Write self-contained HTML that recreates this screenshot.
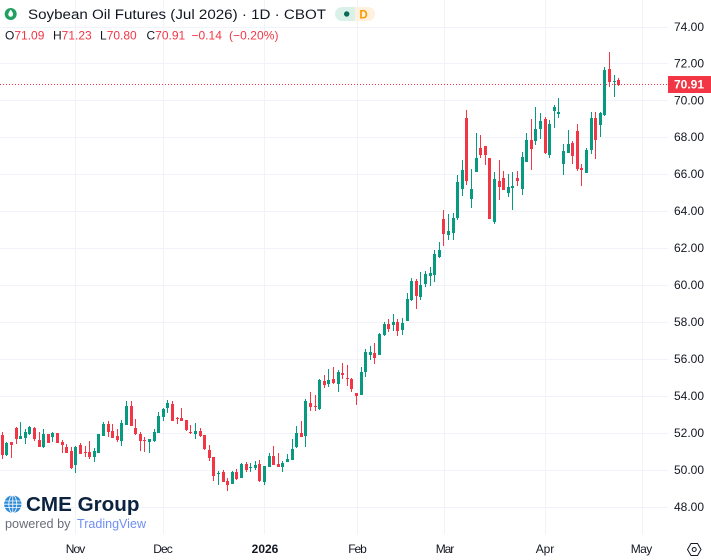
<!DOCTYPE html>
<html><head><meta charset="utf-8"><style>
html,body{margin:0;padding:0;background:#fff;}
svg{display:block;font-family:"Liberation Sans",sans-serif;}
</style></head><body>
<svg width="711" height="560" viewBox="0 0 711 560" xmlns="http://www.w3.org/2000/svg">
<rect x="0" y="0" width="711" height="560" fill="#ffffff"/>
<g fill="#f0f3fa" shape-rendering="crispEdges">
<rect x="0" y="27" width="668" height="1"/><rect x="0" y="63" width="668" height="1"/><rect x="0" y="100" width="668" height="1"/><rect x="0" y="137" width="668" height="1"/><rect x="0" y="174" width="668" height="1"/><rect x="0" y="211" width="668" height="1"/><rect x="0" y="248" width="668" height="1"/><rect x="0" y="285" width="668" height="1"/><rect x="0" y="322" width="668" height="1"/><rect x="0" y="359" width="668" height="1"/><rect x="0" y="396" width="668" height="1"/><rect x="0" y="433" width="668" height="1"/><rect x="0" y="470" width="668" height="1"/><rect x="0" y="507" width="668" height="1"/>
<rect x="75" y="0" width="1" height="534"/><rect x="163" y="0" width="1" height="534"/><rect x="264" y="0" width="1" height="534"/><rect x="357" y="0" width="1" height="534"/><rect x="444" y="0" width="1" height="534"/><rect x="545" y="0" width="1" height="534"/><rect x="642" y="0" width="1" height="534"/>
</g>
<g shape-rendering="crispEdges">
<path fill="#089981" d="M6 442h1V456h-1zM5 443h3V455h-3zM20 422h1V439h-1zM19 436h3V439h-3zM25 429h1V444h-1zM24 432h3V438h-3zM29 426h1V435h-1zM28 427h3V434h-3zM43 429h1V448h-1zM42 434h3V447h-3zM52 432h1V442h-1zM51 433h3V437h-3zM75 446h1V473h-1zM74 447h3V465h-3zM94 448h1V462h-1zM93 451h3V457h-3zM97 434h3V453h-3zM103 422h1V436h-1zM102 424h3V436h-3zM121 420h1V446h-1zM120 423h3V441h-3zM126 401h1V425h-1zM125 406h3V425h-3zM149 439h1V453h-1zM148 439h3V442h-3zM154 429h1V442h-1zM153 432h3V441h-3zM158 412h1V433h-1zM157 416h3V433h-3zM163 408h1V421h-1zM162 409h3V417h-3zM167 400h1V413h-1zM166 403h3V408h-3zM195 423h1V439h-1zM194 431h3V434h-3zM218 471h1V485h-1zM217 473h3V474h-3zM232 471h1V484h-1zM231 472h3V484h-3zM241 463h1V478h-1zM240 464h3V478h-3zM250 463h1V472h-1zM249 467h3V468h-3zM255 461h1V470h-1zM254 465h3V468h-3zM264 466h1V485h-1zM263 466h3V482h-3zM269 453h1V467h-1zM268 456h3V467h-3zM282 461h1V472h-1zM281 463h3V467h-3zM287 454h1V462h-1zM286 459h3V462h-3zM292 439h1V460h-1zM291 449h3V460h-3zM296 426h1V448h-1zM295 433h3V447h-3zM305 399h1V447h-1zM304 401h3V436h-3zM319 379h1V410h-1zM318 380h3V409h-3zM328 369h1V387h-1zM327 380h3V384h-3zM338 370h1V392h-1zM337 372h3V384h-3zM361 367h1V395h-1zM360 372h3V395h-3zM365 349h1V377h-1zM364 352h3V372h-3zM370 346h1V360h-1zM369 352h3V355h-3zM379 333h1V355h-1zM378 334h3V355h-3zM384 322h1V336h-1zM383 324h3V335h-3zM393 314h1V331h-1zM392 322h3V325h-3zM402 318h1V335h-1zM401 323h3V330h-3zM407 293h1V321h-1zM406 299h3V321h-3zM411 278h1V301h-1zM410 281h3V300h-3zM420 272h1V300h-1zM419 285h3V297h-3zM425 271h1V287h-1zM424 274h3V284h-3zM430 267h1V286h-1zM429 273h3V276h-3zM434 250h1V282h-1zM433 254h3V275h-3zM439 242h1V258h-1zM438 250h3V257h-3zM448 214h1V240h-1zM447 231h3V235h-3zM453 213h1V240h-1zM452 218h3V233h-3zM457 175h1V220h-1zM456 182h3V218h-3zM462 160h1V196h-1zM461 170h3V189h-3zM471 169h1V208h-1zM470 189h3V199h-3zM476 133h1V172h-1zM475 158h3V172h-3zM494 172h1V224h-1zM493 179h3V222h-3zM508 174h1V197h-1zM507 187h3V193h-3zM512 172h1V210h-1zM511 186h3V188h-3zM522 152h1V195h-1zM521 157h3V189h-3zM526 133h1V162h-1zM525 140h3V162h-3zM535 107h1V145h-1zM534 129h3V141h-3zM540 113h1V139h-1zM539 121h3V129h-3zM549 120h1V158h-1zM548 124h3V155h-3zM554 105h1V128h-1zM553 107h3V111h-3zM558 98h1V118h-1zM557 112h3V114h-3zM563 144h1V175h-1zM562 151h3V164h-3zM568 130h1V153h-1zM567 144h3V153h-3zM586 148h1V173h-1zM585 150h3V173h-3zM591 112h1V154h-1zM590 118h3V150h-3zM600 112h1V137h-1zM599 113h3V125h-3zM604 67h1V116h-1zM603 70h3V115h-3zM614 75h1V97h-1zM613 81h3V82h-3z"/>
<path fill="#f23645" d="M2 432h1V459h-1zM1 435h3V455h-3zM11 442h1V458h-1zM10 442h3V445h-3zM16 427h1V444h-1zM15 428h3V439h-3zM34 427h1V441h-1zM33 428h3V439h-3zM39 432h1V447h-1zM38 440h3V447h-3zM47 434h3V443h-3zM56 433h3V443h-3zM62 440h1V453h-1zM61 442h3V445h-3zM66 444h1V453h-1zM65 447h3V453h-3zM71 447h1V469h-1zM70 451h3V468h-3zM80 443h1V454h-1zM79 445h3V454h-3zM85 446h1V457h-1zM84 452h3V453h-3zM89 441h1V459h-1zM88 452h3V457h-3zM108 421h1V437h-1zM107 424h3V432h-3zM112 424h1V438h-1zM111 431h3V438h-3zM117 429h1V442h-1zM116 436h3V440h-3zM131 401h1V426h-1zM130 406h3V426h-3zM135 419h1V435h-1zM134 428h3V434h-3zM140 432h1V451h-1zM139 434h3V441h-3zM144 437h1V452h-1zM143 440h3V441h-3zM172 401h1V421h-1zM171 404h3V421h-3zM177 417h1V424h-1zM176 418h3V419h-3zM181 408h1V421h-1zM180 418h3V421h-3zM186 420h1V431h-1zM185 420h3V430h-3zM190 425h1V434h-1zM189 432h3V433h-3zM200 428h1V437h-1zM199 431h3V436h-3zM204 435h1V450h-1zM203 435h3V449h-3zM209 445h1V461h-1zM208 450h3V458h-3zM213 457h1V481h-1zM212 457h3V476h-3zM223 470h1V482h-1zM222 472h3V482h-3zM227 478h1V491h-1zM226 481h3V485h-3zM236 469h1V480h-1zM235 472h3V479h-3zM246 462h1V472h-1zM245 464h3V470h-3zM259 460h1V482h-1zM258 464h3V481h-3zM273 446h1V465h-1zM272 456h3V465h-3zM278 453h1V467h-1zM277 464h3V467h-3zM301 421h1V437h-1zM300 433h3V437h-3zM310 392h1V411h-1zM309 403h3V407h-3zM315 395h1V411h-1zM314 406h3V407h-3zM324 375h1V388h-1zM323 381h3V385h-3zM333 367h1V384h-1zM332 379h3V383h-3zM342 363h1V379h-1zM341 373h3V375h-3zM347 365h1V386h-1zM346 378h3V379h-3zM351 378h1V392h-1zM350 379h3V389h-3zM356 393h1V405h-1zM355 393h3V396h-3zM374 343h1V364h-1zM373 353h3V358h-3zM388 319h1V332h-1zM387 324h3V329h-3zM397 319h1V336h-1zM396 322h3V331h-3zM416 279h1V309h-1zM415 281h3V296h-3zM443 210h1V246h-1zM442 219h3V234h-3zM466 110h1V185h-1zM465 118h3V181h-3zM480 135h1V158h-1zM479 148h3V155h-3zM485 146h1V165h-1zM484 146h3V155h-3zM488 158h3V219h-3zM499 160h1V200h-1zM498 181h3V187h-3zM503 171h1V190h-1zM502 178h3V190h-3zM517 171h1V186h-1zM516 178h3V181h-3zM531 119h1V170h-1zM530 140h3V149h-3zM545 117h1V154h-1zM544 119h3V153h-3zM572 141h1V164h-1zM571 143h3V156h-3zM577 124h1V171h-1zM576 131h3V169h-3zM581 164h1V186h-1zM580 168h3V170h-3zM595 112h1V159h-1zM594 118h3V140h-3zM609 52h1V87h-1zM608 69h3V82h-3zM618 78h1V86h-1zM617 80h3V85h-3z"/>
</g>
<line x1="0" y1="84.5" x2="668" y2="84.5" stroke="#f23645" stroke-width="1" stroke-dasharray="1 2"/>
<g font-size="12" fill="#131722" text-anchor="end">
<text x="704" y="31">74.00</text><text x="704" y="67.5">72.00</text><text x="704" y="104.5">70.00</text><text x="704" y="141">68.00</text><text x="704" y="178">66.00</text><text x="704" y="215">64.00</text><text x="704" y="252">62.00</text><text x="704" y="289">60.00</text><text x="704" y="326">58.00</text><text x="704" y="363">56.00</text><text x="704" y="400">54.00</text><text x="704" y="437">52.00</text><text x="704" y="474">50.00</text><text x="704" y="511">48.00</text>
</g>
<rect x="668" y="76" width="43" height="17" fill="#f23645"/>
<text x="704" y="88.5" font-size="12" font-weight="bold" fill="#ffffff" text-anchor="end" textLength="30" lengthAdjust="spacingAndGlyphs">70.91</text>
<g font-size="12" fill="#131722" text-anchor="middle">
<text x="75.5" y="553" textLength="19.5">Nov</text>
<text x="163" y="553" textLength="19.5">Dec</text>
<text x="265" y="553" font-weight="bold">2026</text>
<text x="357.5" y="553" textLength="18.5">Feb</text>
<text x="445" y="553" textLength="18.5">Mar</text>
<text x="545" y="553" textLength="18.5">Apr</text>
<text x="641.5" y="553" textLength="21.5">May</text>
</g>
<g fill="none" stroke="#131722" stroke-width="1">
<path d="M687.5 549.5L691 543.5H697.5L701 549.5L697.5 555.5H691Z"/>
<circle cx="694.2" cy="549.5" r="2"/>
</g>
<circle cx="10.7" cy="14" r="6" fill="#22a061"/>
<path d="M10.7 9.6C9.4 11.4 8.3 12.9 8.3 14.4a2.4 2.4 0 0 0 4.8 0C13.1 12.9 12 11.4 10.7 9.6Z" fill="#ffffff"/>
<text x="28" y="19" font-size="13.5" fill="#131722" textLength="298" lengthAdjust="spacingAndGlyphs">Soybean Oil Futures (Jul 2026) · 1D · CBOT</text>
<path d="M342 7H355V21H342A7 7 0 0 1 342 7Z" fill="#daf1ea"/>
<path d="M355 7H368A7 7 0 0 1 368 21H355Z" fill="#fff1de"/>
<circle cx="346.7" cy="14" r="2.7" fill="#0b6b58"/>
<text x="363.5" y="18.3" font-size="11.5" font-weight="bold" fill="#ff9800" text-anchor="middle">D</text>
<g font-size="12" fill="#f23645">
<text x="5" y="39.3"><tspan fill="#131722">O</tspan>71.09</text>
<text x="53" y="39.3"><tspan fill="#131722">H</tspan>71.23</text>
<text x="100" y="39.3"><tspan fill="#131722">L</tspan>70.80</text>
<text x="146.5" y="39.3"><tspan fill="#131722">C</tspan>70.91</text>
<text x="191.5" y="39.3">−0.14</text>
<text x="229" y="39.3" textLength="49.5">(−0.20%)</text>
</g>
<circle cx="12.8" cy="504.2" r="8.7" fill="#2f8ad6"/>
<g stroke="#ffffff" stroke-width="0.8" fill="none">
<ellipse cx="12.8" cy="504.2" rx="4" ry="8.7"/>
<line x1="12.8" y1="495.5" x2="12.8" y2="512.9"/>
<line x1="4.5" y1="501" x2="21.1" y2="501"/>
<line x1="4.5" y1="507.4" x2="21.1" y2="507.4"/>
<line x1="4.1" y1="504.2" x2="21.5" y2="504.2"/>
</g>
<text x="26" y="511" font-size="20" font-weight="bold" fill="#0c2340" textLength="113.5" lengthAdjust="spacingAndGlyphs">CME Group</text>
<text x="5" y="528" font-size="13" fill="#6a6d78" textLength="65.5" lengthAdjust="spacingAndGlyphs">powered by</text>
<text x="77" y="528" font-size="13" fill="#6f8ef5" textLength="69" lengthAdjust="spacingAndGlyphs">TradingView</text>
</svg>
</body></html>
